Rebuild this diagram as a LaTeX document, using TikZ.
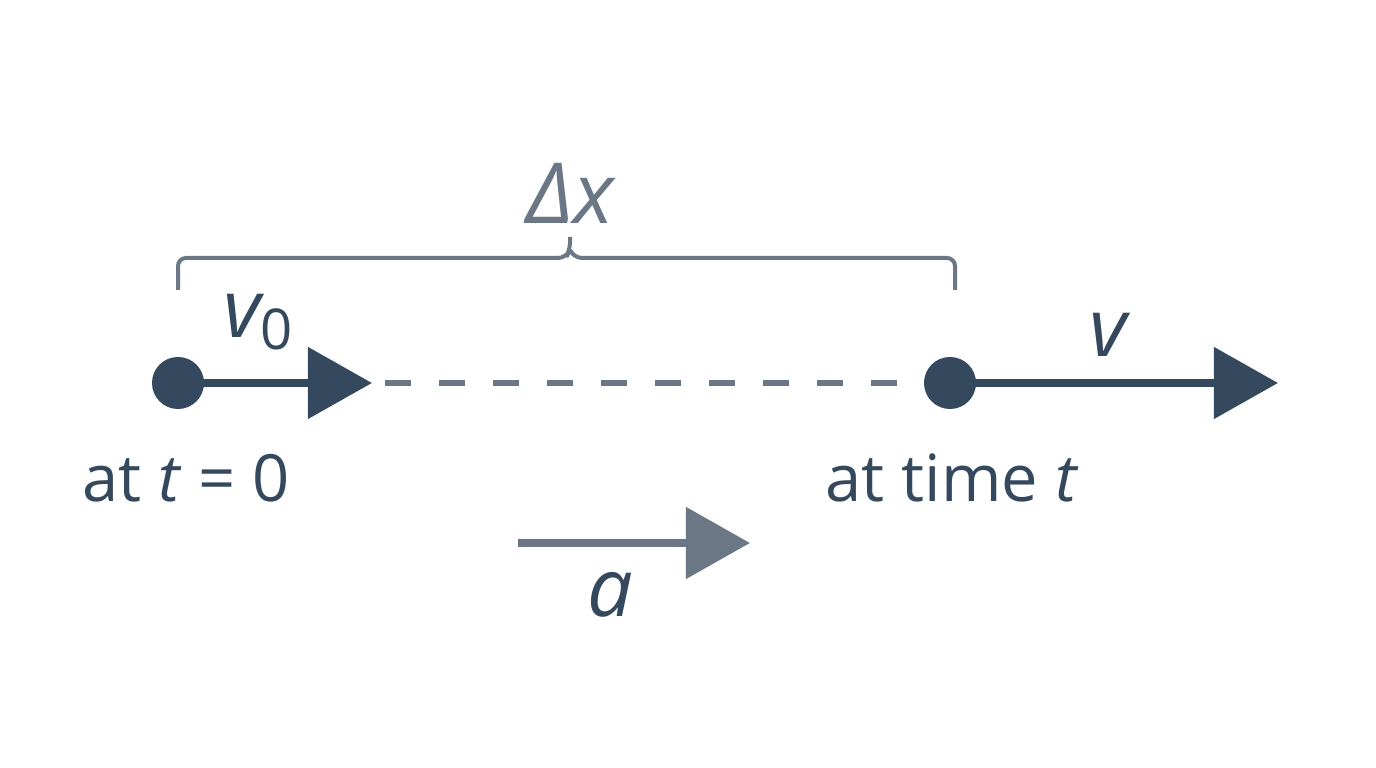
\documentclass[tikz,border=0pt]{standalone}
\usepackage{fontspec}
\setmainfont{Open Sans}
\usetikzlibrary{arrows.meta}
\definecolor{navy}{HTML}{34495E}
\definecolor{slate}{HTML}{6B7785}
\begin{document}
\begin{tikzpicture}[x=0.01cm,y=-0.01cm,
  dot/.style={circle,fill=navy,inner sep=0,minimum size=0.52cm},
  vec/.style={line width=0.08cm,-{Triangle[length=0.64cm,width=0.70cm]}},
  lbl/.style={font=\fontsize{18.5}{20}\selectfont,text=navy},
  big/.style={font=\fontsize{23}{25}\selectfont\itshape,text=navy}]
\useasboundingbox[fill=white] (0,0) rectangle (1376,768);
\node[dot] (d1) at (178,383) {};
\node[dot] (d2) at (950,383) {};
\coordinate (t1) at (372,383);
\coordinate (t2) at (1278,383);
\draw[vec,navy] (d1.center) -- (t1);
\draw[slate,line width=0.065cm,dash pattern=on 0.26cm off 0.28cm] (385,383) -- (d2.west);
\draw[vec,navy] (d2.center) -- (t2);
% brace
\draw[slate,line width=0.04cm,rounded corners=0.08cm]
  (178,290) -- (178,258) -- (566,258) -- (570,250) -- (570,237);
\draw[slate,line width=0.04cm,rounded corners=0.08cm]
  (955,290) -- (955,258) -- (574,258) -- (570,250);
\node[font=\fontsize{24}{26}\selectfont\itshape,text=slate] (dx) at (570,193) {Δx};
\node[big] (v0) at (258,322) {v\raisebox{-0.15em}{\fontsize{16}{18}\selectfont\upshape 0}};
\node[big] (v) at (1108,335) {v};
\node[lbl] (l1) at (186,478) {at \textit{t} = 0};
\node[lbl] (l2) at (952,478) {at time \textit{t}};
\coordinate (a0) at (518,543);
\coordinate (a1) at (750,543);
\draw[vec,slate] (a0) -- (a1);
\node[big] (a) at (610,595) {a};
\end{tikzpicture}
\end{document}
